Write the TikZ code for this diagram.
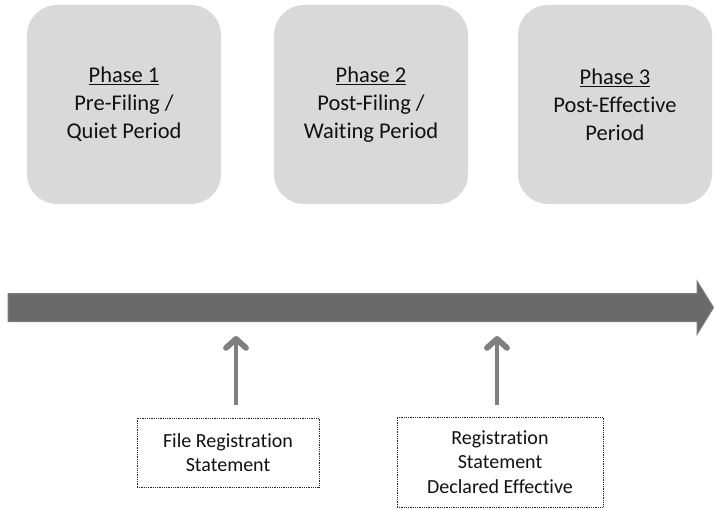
\documentclass[tikz,border=0pt]{standalone}
\usepackage{fontspec}
\setmainfont{Carlito}[Ligatures={NoCommon}]
\usetikzlibrary{arrows.meta}
\definecolor{boxfill}{HTML}{D9D9D9}
\definecolor{arrowfill}{HTML}{6A6A6A}
\definecolor{arrowedge}{HTML}{7C7C7C}
\definecolor{smallarrow}{HTML}{7F7F7F}
\definecolor{txt}{HTML}{111111}
\tikzset{
  phasebox/.style={fill=boxfill, draw=none, rounded corners=30bp,
    minimum width=194bp, minimum height=199bp, align=center, text=txt,
    font=\fontsize{22.5bp}{28bp}\selectfont, inner sep=0pt},
  eventbox/.style={draw=black!85, densely dotted, line width=0.8bp, align=center, text=txt,
    font=\fontsize{20bp}{24.5bp}\selectfont, inner sep=0pt},
  eventarrow/.style={draw=smallarrow, line width=4bp,
    -{Straight Barb[length=9bp,width=20bp,line width=0pt 1.45,round]}}
}
\begin{document}
\begin{tikzpicture}[x=1bp,y=-1bp]
\useasboundingbox (0,0) rectangle (714,510);
% phase boxes
\node[phasebox] (p1) at (124,104.5) {\underline{Phase 1}\\Pre-Filing /\\Quiet Period};
\node[phasebox] (p2) at (371,104.5) {\underline{Phase 2}\\Post-Filing /\\Waiting Period};
\node[phasebox] (p3) at (615,104.5) {\underline{Phase 3}\\Post-Effective\\Period};
% timeline arrow
\draw[fill=arrowfill, draw=arrowedge, line width=1bp]
  (8,293.5) -- (697,293.5) -- (697,281) -- (713.5,307.5) -- (697,334.5) -- (697,321.5) -- (8,321.5) -- cycle;
\coordinate (t1) at (236,336);
\coordinate (t2) at (497,336);
% event boxes
\node[eventbox, minimum width=182bp, minimum height=69bp] (e1) at (228,452.5) {File Registration\\Statement};
\node[eventbox, minimum width=206bp, minimum height=90bp] (e2) at (500,462) {Registration\\Statement\\Declared Effective};
% event arrows
\draw[eventarrow] ([yshift=13bp]e1.north -| t1) -- (t1);
\draw[eventarrow] ([yshift=12bp]e2.north -| t2) -- (t2);
\end{tikzpicture}
\end{document}
